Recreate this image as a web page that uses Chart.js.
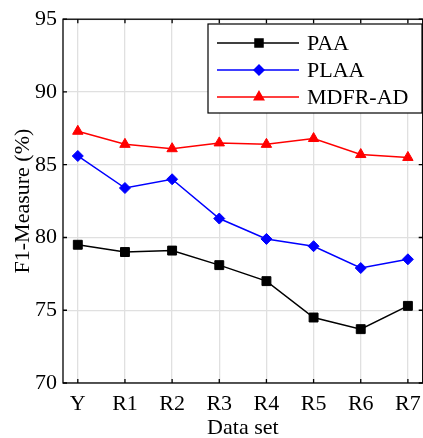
<!DOCTYPE html>
<html>
<head>
<meta charset="utf-8">
<script src="https://cdn.jsdelivr.net/npm/chart.js@4.4.0/dist/chart.umd.min.js"></script>
<style>
  html, body { margin: 0; padding: 0; background: #fff; overflow: hidden; }
  #wrap { width: 430px; height: 438px; }
</style>
</head>
<body>
<div id="wrap"><canvas id="c" width="430" height="438"></canvas></div>
<script>
// data
const categories = ['Y', 'R1', 'R2', 'R3', 'R4', 'R5', 'R6', 'R7'];
const paa   = [79.5, 79.0, 79.1, 78.1, 77.0, 74.5, 73.7, 75.3];
const plaa  = [85.6, 83.4, 84.0, 81.3, 79.9, 79.4, 77.9, 78.5];
const mdfr  = [87.3, 86.4, 86.1, 86.5, 86.4, 86.8, 85.7, 85.5];
const yTicks = [70, 75, 80, 85, 90, 95];

const FONT = '"Liberation Serif", "DejaVu Serif", serif';
const GRID = '#e0e0e0';

const series = [
  { label: 'PAA',     data: paa,  color: '#000000', style: 'rect',     radius: 6.3 },
  { label: 'PLAA',    data: plaa, color: '#0000ff', style: 'rectRot',  radius: 5.5 },
  { label: 'MDFR-AD', data: mdfr, color: '#ff0000', style: 'triangle', radius: 6 }
];

// frame + inward tick marks, matlab style
const framePlugin = {
  id: 'frame',
  afterDraw(chart) {
    const { ctx, chartArea: a, scales } = chart;
    ctx.save();
    ctx.strokeStyle = '#000';
    ctx.lineWidth = 1.3;
    ctx.beginPath();
    scales.x.ticks.forEach(t => {
      const px = scales.x.getPixelForValue(t.value);
      ctx.moveTo(px, a.bottom); ctx.lineTo(px, a.bottom - 4);
      ctx.moveTo(px, a.top);    ctx.lineTo(px, a.top + 4);
    });
    scales.y.ticks.forEach(t => {
      const py = scales.y.getPixelForValue(t.value);
      ctx.moveTo(a.left, py);  ctx.lineTo(a.left + 4, py);
      ctx.moveTo(a.right, py); ctx.lineTo(a.right - 4, py);
    });
    ctx.stroke();
    ctx.strokeRect(a.left, a.top, a.right - a.left, a.bottom - a.top);
    ctx.restore();
  }
};

// boxed legend in the top right corner
const legendPlugin = {
  id: 'boxLegend',
  afterDraw(chart) {
    const { ctx } = chart;
    const x0 = 208, y0 = 24, w = 214, h = 89;
    ctx.save();
    ctx.fillStyle = '#fff';
    ctx.fillRect(x0, y0, w, h);
    ctx.strokeStyle = '#000';
    ctx.lineWidth = 1.2;
    ctx.strokeRect(x0, y0, w, h);
    ctx.font = '22px ' + FONT;
    ctx.textBaseline = 'middle';
    series.forEach((s, i) => {
      const y = y0 + 19 + i * 27;
      ctx.strokeStyle = s.color;
      ctx.lineWidth = 1.5;
      ctx.beginPath();
      ctx.moveTo(x0 + 9, y); ctx.lineTo(x0 + 91, y);
      ctx.stroke();
      ctx.fillStyle = s.color;
      Chart.helpers.drawPoint(ctx, { pointStyle: s.style, radius: s.radius * 0.9, borderWidth: 1 }, x0 + 51, y);
      ctx.fillStyle = '#000';
      ctx.fillText(s.label, x0 + 99, y + 1);
    });
    ctx.restore();
  }
};

new Chart(document.getElementById('c'), {
  type: 'line',
  data: {
    datasets: series.map(s => ({
      label: s.label,
      data: s.data.map((v, i) => ({ x: i, y: v })),
      borderColor: s.color,
      backgroundColor: s.color,
      borderWidth: 1.5,
      pointStyle: s.style,
      pointRadius: s.radius,
      pointBorderWidth: 1,
      tension: 0
    }))
  },
  options: {
    responsive: false,
    animation: false,
    layout: { padding: { top: 16, right: 3, left: 0, bottom: 0 } },
    plugins: { legend: { display: false }, tooltip: { enabled: false } },
    scales: {
      x: {
        type: 'linear',
        min: -0.314,
        max: 7.314,
        afterBuildTicks: scale => { scale.ticks = categories.map((_, i) => ({ value: i })); },
        afterFit: scale => { scale.height = 55; },
        ticks: {
          callback: v => categories[v],
          color: '#000',
          font: { family: FONT, size: 22 },
          padding: 8,
          maxRotation: 0,
          autoSkip: false
        },
        grid: { color: GRID, lineWidth: 1.3, drawTicks: false },
        border: { display: false },
        title: {
          display: true,
          text: 'Data set',
          color: '#000',
          font: { family: FONT, size: 22 },
          padding: { top: 0, bottom: -3 }
        }
      },
      y: {
        min: 70,
        max: 95,
        afterBuildTicks: scale => { scale.ticks = yTicks.map(v => ({ value: v })); },
        afterFit: scale => { scale.width = 63; },
        ticks: {
          color: '#000',
          font: { family: FONT, size: 22 },
          padding: 6
        },
        grid: { color: GRID, lineWidth: 1.3, drawTicks: false },
        border: { display: false },
        title: {
          display: true,
          text: 'F1-Measure (%)',
          color: '#000',
          font: { family: FONT, size: 22 },
          padding: { top: 10, bottom: 0 }
        }
      }
    }
  },
  plugins: [framePlugin, legendPlugin]
});
</script>
</body>
</html>
